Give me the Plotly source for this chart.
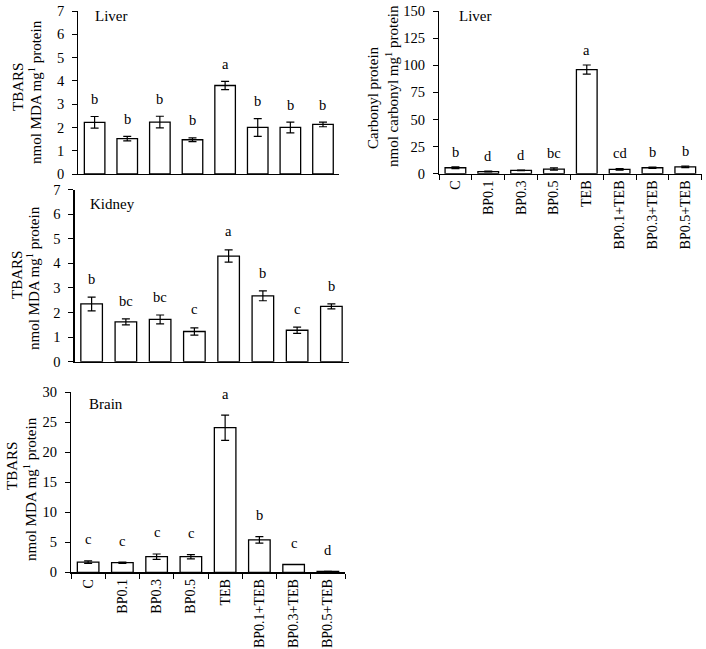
import plotly.graph_objects as go

categories = ["C", "BP0.1", "BP0.3", "BP0.5", "TEB", "BP0.1+TEB", "BP0.3+TEB", "BP0.5+TEB"]

liver_tbars = [2.22, 1.52, 2.23, 1.47, 3.80, 2.00, 2.00, 2.13]
liver_tbars_err = [0.25, 0.10, 0.25, 0.08, 0.18, 0.38, 0.23, 0.10]
liver_tbars_letters = ["b", "b", "b", "b", "a", "b", "b", "b"]

liver_carbonyl = [5.5, 2.0, 3.0, 4.3, 96.0, 4.0, 5.5, 6.3]
liver_carbonyl_err = [0.8, 0.3, 0.3, 1.0, 4.2, 0.8, 0.7, 0.7]
liver_carbonyl_letters = ["b", "d", "d", "bc", "a", "cd", "b", "b"]

kidney_tbars = [2.35, 1.62, 1.72, 1.23, 4.30, 2.68, 1.28, 2.25]
kidney_tbars_err = [0.28, 0.12, 0.18, 0.15, 0.25, 0.20, 0.13, 0.10]
kidney_tbars_letters = ["b", "bc", "bc", "c", "a", "b", "c", "b"]

brain_tbars = [1.7, 1.6, 2.6, 2.6, 24.1, 5.4, 1.3, 0.15]
brain_tbars_err = [0.2, 0.1, 0.45, 0.35, 2.1, 0.55, 0.0, 0.0]
brain_tbars_letters = ["c", "c", "c", "c", "a", "b", "c", "d"]

W, H = 706, 649
FONT = "Liberation Serif, Times New Roman, serif"

def px_x(a, b):
    return [a / W, b / W]

def px_y(top, bottom):
    return [(H - bottom) / H, (H - top) / H]

TB1 = "TBARS"
TB2 = "nmol MDA mg<sup>1</sup> protein"

panels = [
    dict(vals=liver_tbars, err=liver_tbars_err, letters=liver_tbars_letters,
         xd=px_x(78.3, 339.3), yd=px_y(11, 174), rng=[0, 7], dtick=1, labels=False,
         name="Liver", name_pos=(93, 16),
         titles=[(TB1, 18, 87), (TB2, 35, 92)], off=0.75),
    dict(vals=liver_carbonyl, err=liver_carbonyl_err, letters=liver_carbonyl_letters,
         xd=px_x(439, 701.7), yd=px_y(11, 173.7), rng=[0, 150], dtick=25, labels=True,
         name="Liver", name_pos=(457, 16),
         titles=[("Carbonyl protein", 373, 97), ("nmol carbonyl mg<sup>1</sup> protein", 392, 86)],
         off=14),
    dict(vals=kidney_tbars, err=kidney_tbars_err, letters=kidney_tbars_letters,
         xd=px_x(74.5, 348.5), yd=px_y(189.7, 361.7), rng=[0, 7], dtick=1, labels=False,
         name="Kidney", name_pos=(88, 204),
         titles=[(TB1, 17, 275), (TB2, 33, 278)], off=0.75),
    dict(vals=brain_tbars, err=brain_tbars_err, letters=brain_tbars_letters,
         xd=px_x(71, 345), yd=px_y(392.3, 572.3), rng=[0, 30], dtick=5, labels=True,
         name="Brain", name_pos=(87, 404),
         titles=[(TB1, 12, 466), (TB2, 30, 489)], off=3.6),
]

fig = go.Figure()
annotations = []
layout = {}
for i, p in enumerate(panels, start=1):
    sx = "" if i == 1 else str(i)
    fig.add_trace(go.Bar(
        x=categories, y=p["vals"],
        xaxis="x" + sx, yaxis="y" + sx,
        width=0.63,
        marker=dict(color="white", line=dict(color="black", width=1.3)),
        error_y=dict(type="data", array=p["err"], visible=True,
                     color="black", thickness=1.2, width=4),
        showlegend=False,
        hoverinfo="skip",
    ))
    layout["xaxis" + sx] = dict(
        domain=p["xd"], anchor="y" + sx, type="category",
        range=[-0.5, 7.5],
        showline=True, linecolor="black", linewidth=1.2,
        ticks="outside" if p["labels"] else "", tickson="boundaries",
        ticklen=5, tickcolor="black", tickwidth=1,
        showticklabels=p["labels"], tickangle=-90,
        tickfont=dict(family=FONT, size=14, color="black"),
        showgrid=False, zeroline=False, fixedrange=True,
    )
    layout["yaxis" + sx] = dict(
        domain=p["yd"], anchor="x" + sx,
        range=p["rng"], dtick=p["dtick"], tick0=0,
        showline=True, linecolor="black", linewidth=1.2,
        ticks="outside", ticklen=5, tickcolor="black", tickwidth=1,
        ticklabelstandoff=5,
        tickfont=dict(family=FONT, size=14.5, color="black"),
        showgrid=False, zeroline=False, fixedrange=True,
    )
    for c, v, e, t in zip(categories, p["vals"], p["err"], p["letters"]):
        annotations.append(dict(
            x=c, y=v + e + p["off"], xref="x" + sx, yref="y" + sx,
            text=t, showarrow=False, yanchor="middle",
            font=dict(family=FONT, size=14.5, color="black"),
        ))
    annotations.append(dict(
        x=p["name_pos"][0] / W, y=1 - p["name_pos"][1] / H, xref="paper", yref="paper",
        text=p["name"], showarrow=False, xanchor="left", yanchor="middle",
        font=dict(family=FONT, size=15, color="black"),
    ))
    for txt, tx, ty in p["titles"]:
        annotations.append(dict(
            x=tx / W, y=1 - ty / H, xref="paper", yref="paper",
            text=txt, showarrow=False, xanchor="center", yanchor="middle",
            textangle=-90,
            font=dict(family=FONT, size=15, color="black"),
        ))

fig.update_layout(
    width=W, height=H,
    margin=dict(l=0, r=0, t=0, b=0, autoexpand=False),
    paper_bgcolor="white", plot_bgcolor="white",
    bargap=0.37,
    hovermode=False,
    annotations=annotations,
    **layout,
)

fig.write_html(
    "out.html",
    config={"displayModeBar": False, "staticPlot": True},
    post_script="document.body.style.margin='0';document.body.style.padding='0';",
)
